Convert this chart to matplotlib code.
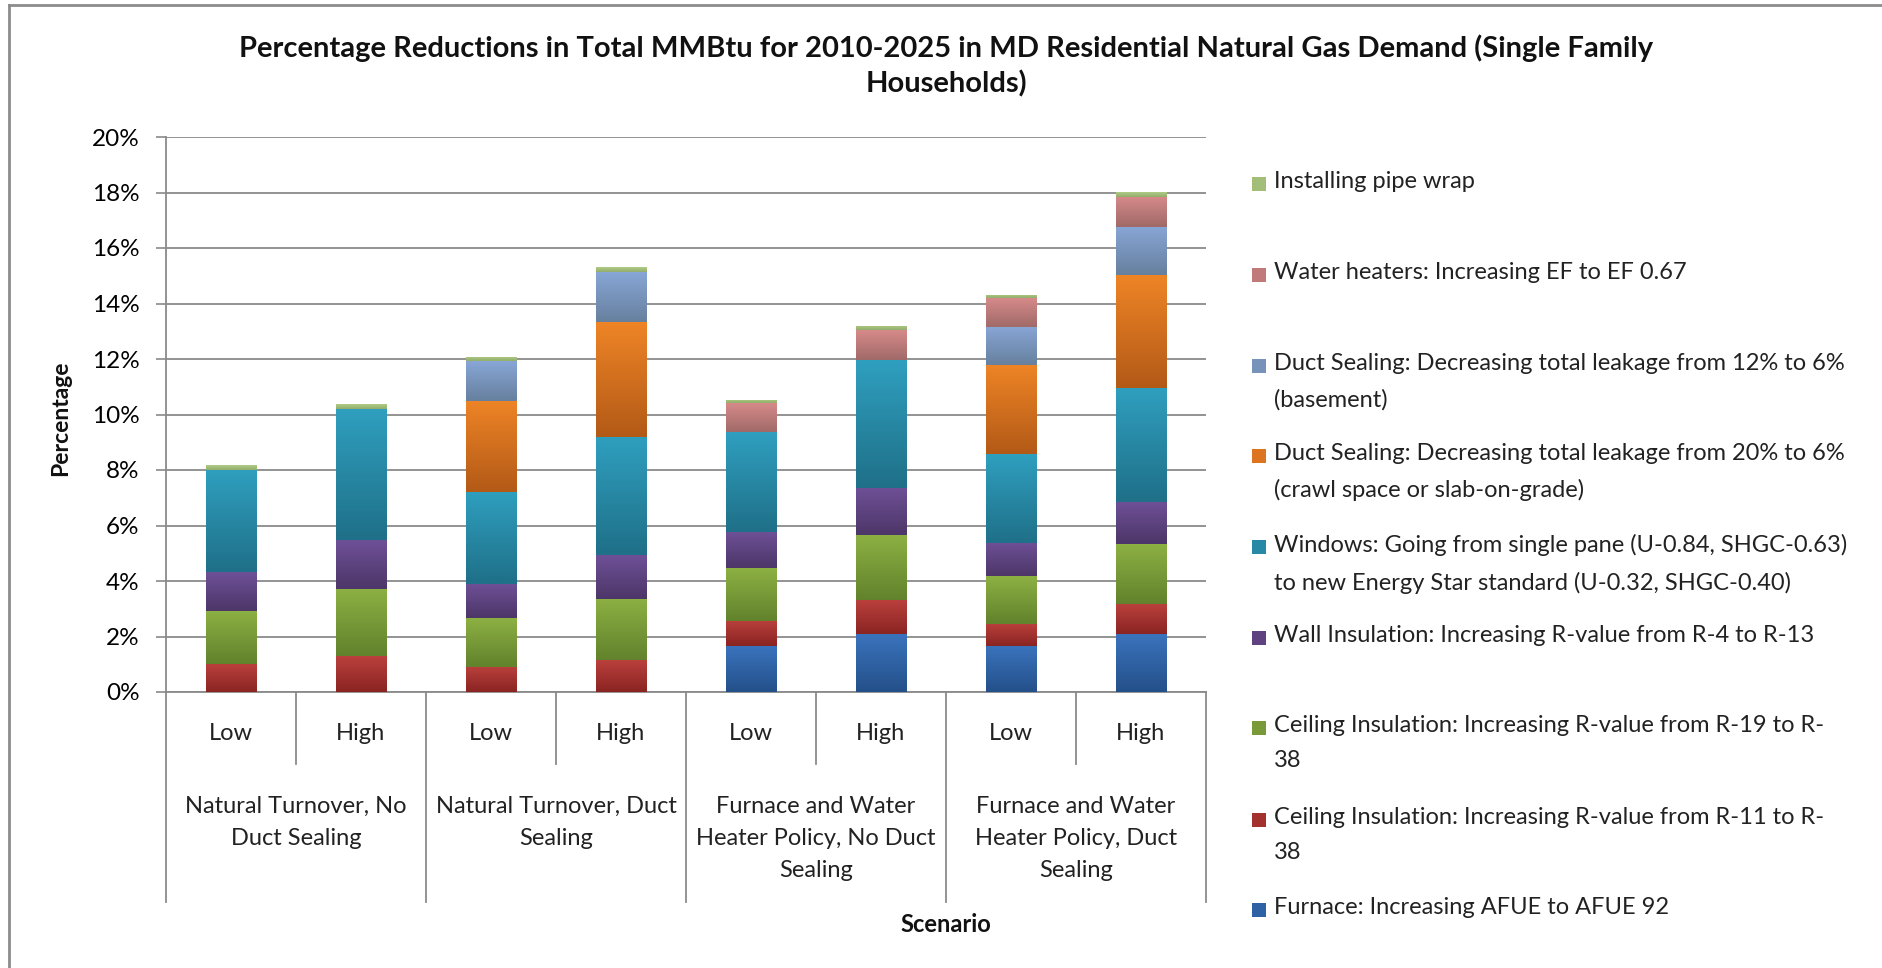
import numpy as np
import matplotlib
matplotlib.use("Agg")
import matplotlib.pyplot as plt
from matplotlib.colors import to_rgb
from matplotlib.lines import Line2D
from matplotlib.patches import Rectangle
import matplotlib.transforms as mtransforms

plt.rcParams['font.family'] = ['Lato', 'DejaVu Sans']

W, H = 1882, 968

# --- data (percent reduction) ---
subcats = ["Low", "High", "Low", "High", "Low", "High", "Low", "High"]
groups = ["Natural Turnover, No\nDuct Sealing",
          "Natural Turnover, Duct\nSealing",
          "Furnace and Water\nHeater Policy, No Duct\nSealing",
          "Furnace and Water\nHeater Policy, Duct\nSealing"]

furnace = [0, 0, 0, 0, 1.64, 2.09, 1.64, 2.09]
ceiling_r11 = [1.00, 1.28, 0.91, 1.14, 0.93, 1.21, 0.82, 1.07]
ceiling_r19 = [1.93, 2.43, 1.74, 2.22, 1.89, 2.34, 1.72, 2.16]
wall = [1.38, 1.75, 1.23, 1.58, 1.32, 1.72, 1.20, 1.53]
windows = [3.70, 4.75, 3.34, 4.26, 3.60, 4.61, 3.20, 4.11]
duct_crawl = [0, 0, 3.28, 4.14, 0, 0, 3.21, 4.05]
duct_basement = [0, 0, 1.43, 1.80, 0, 0, 1.37, 1.73]
water_heaters = [0, 0, 0, 0, 1.03, 1.07, 1.04, 1.09]
pipe_wrap = [0.16, 0.18, 0.15, 0.18, 0.11, 0.16, 0.11, 0.18]

labels = [
    "Furnace: Increasing AFUE to AFUE 92",
    "Ceiling Insulation: Increasing R-value from R-11 to R-\n38",
    "Ceiling Insulation: Increasing R-value from R-19 to R-\n38",
    "Wall Insulation: Increasing R-value from R-4 to R-13",
    "Windows: Going from single pane (U-0.84, SHGC-0.63)\nto new Energy Star standard (U-0.32, SHGC-0.40)",
    "Duct Sealing: Decreasing total leakage from 20% to 6%\n(crawl space or slab-on-grade)",
    "Duct Sealing: Decreasing total leakage from 12% to 6%\n(basement)",
    "Water heaters: Increasing EF to EF 0.67",
    "Installing pipe wrap",
]
series = [furnace, ceiling_r11, ceiling_r19, wall, windows,
          duct_crawl, duct_basement, water_heaters, pipe_wrap]

# gradient colours (top, bottom)
grads = [("#3A73BC", "#24508A"), ("#BA403C", "#8A2422"), ("#8DB043", "#62822C"),
         ("#6E5097", "#4D3668"), ("#2F9FBF", "#1F7088"), ("#EE8426", "#B35A17"),
         ("#88A6D6", "#66809E"), ("#D68A89", "#A06A68"), ("#AFCB86", "#93AE6A")]
flat = ["#2F62A4", "#A3322F", "#789A38", "#5E4380", "#2789A5", "#DC7420",
        "#7793BA", "#C07A79", "#A2BE79"]

fig = plt.figure(figsize=(W / 100, H / 100), dpi=100)
ax = fig.add_axes([166 / W, 1 - 692 / H, (1206 - 166) / W, (692 - 137) / H])

x = np.arange(len(subcats))
width = 0.39
bottom = np.zeros(len(x))
for vals, (ctop, cbot) in zip(series, grads):
    vals = np.array(vals, dtype=float)
    bars = ax.bar(x, vals, width, bottom=bottom, color=cbot, linewidth=0, zorder=3)
    t = np.linspace(0, 1, 64)[:, None]
    c1, c0 = np.array(to_rgb(ctop)), np.array(to_rgb(cbot))
    img = (c0 + (c1 - c0) * t)[:, None, :]
    for b in bars:
        if b.get_height() <= 0:
            continue
        x0, y0 = b.get_x(), b.get_y()
        im = ax.imshow(img, extent=[x0, x0 + b.get_width(), y0, y0 + b.get_height()],
                       origin='lower', aspect='auto', zorder=3.5, interpolation='bilinear')
        im.set_clip_path(b)
    bottom += vals

ax.set_xlim(-0.5, len(x) - 0.5)
ax.set_ylim(0, 20)
ax.set_yticks(np.arange(0, 21, 2))
ax.set_yticklabels([f"{v}%" for v in range(0, 21, 2)], fontsize=17.5)
ax.yaxis.grid(True, color="#8A8A8A", linewidth=1.3, zorder=0)
ax.set_axisbelow(True)
ax.tick_params(axis='y', length=7, width=1.2, color="#8A8A8A", pad=12)
ax.tick_params(axis='x', length=0, labelbottom=False)
for s in ['top', 'right']:
    ax.spines[s].set_visible(False)
for s in ['left', 'bottom']:
    ax.spines[s].set_color("#8A8A8A")
    ax.spines[s].set_linewidth(1.3)

# category axis
trans = mtransforms.blended_transform_factory(ax.transData, ax.transAxes)
ph = 692 - 137
inner_y = -(764 - 692) / ph
outer_y = -(902 - 692) / ph
for i in range(len(x) + 1):
    xp = i - 0.5
    yb = outer_y if i % 2 == 0 else inner_y
    ax.add_line(Line2D([xp, xp], [0, yb], transform=trans, color="#8A8A8A",
                       linewidth=1.3, clip_on=False))
for i, s in enumerate(subcats):
    ax.text(i, -(733 - 692) / ph, s, transform=trans, ha='center', va='center',
            fontsize=17, color="#222222")
for g, s in enumerate(groups):
    ax.text(2 * g + 0.5, -(796 - 692) / ph, s, transform=trans, ha='center', va='top',
            fontsize=17, color="#222222", linespacing=1.65)

fig.text(946 / W, 1 - 925 / H, "Scenario", ha='center', va='center',
         fontsize=17, fontweight='bold', color="#111111")
fig.text(61 / W, 1 - 418 / H, "Percentage", ha='center', va='center', rotation=90,
         fontsize=16.5, fontweight='bold', color="#111111")
fig.text(946 / W, 1 - 66 / H,
         "Percentage Reductions in Total MMBtu for 2010-2025 in MD Residential Natural Gas Demand (Single Family\nHouseholds)",
         ha='center', va='center', fontsize=21, fontweight='bold', color="#111111",
         linespacing=1.35)

# legend (top entry = last series)
ys = [184, 275, 366, 456, 547, 638, 728, 820, 910]
for k, yy in enumerate(ys):
    si = len(series) - 1 - k
    fig.add_artist(Rectangle(((1252) / W, 1 - (yy + 7) / H), 14 / W, 14 / H,
                             transform=fig.transFigure, color=flat[si], linewidth=0))
    fig.text(1274 / W, 1 - (yy - 13) / H, labels[si], ha='left', va='top',
             fontsize=17, color="#222222", linespacing=1.85)

# chart frame (left and top only visible)
fig.add_artist(Line2D([9 / W, 9 / W], [0, 1 - 5 / H], transform=fig.transFigure,
                      color="#8C8C8C", linewidth=2))
fig.add_artist(Line2D([9 / W, 1], [1 - 5 / H, 1 - 5 / H], transform=fig.transFigure,
                      color="#8C8C8C", linewidth=2))

fig.savefig("out.png", dpi=100)
